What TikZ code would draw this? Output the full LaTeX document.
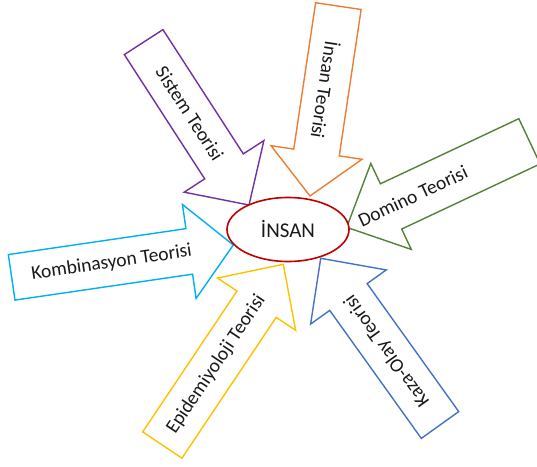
\documentclass[tikz,border=0pt]{standalone}
\usepackage{fontspec}
\setmainfont{Carlito}
\usetikzlibrary{shapes.geometric}

\definecolor{mor}{HTML}{7030A0}
\definecolor{turuncu}{HTML}{ED7D31}
\definecolor{yesil}{HTML}{548235}
\definecolor{mavi}{HTML}{00B0F0}
\definecolor{sari}{HTML}{FFC000}
\definecolor{lacivert}{HTML}{4472C4}
\definecolor{kirmizi}{HTML}{C00000}

\begin{document}
\begin{tikzpicture}[x=1pt, y=1pt,
        teori/.style={font=\fontsize{19.5}{22}\selectfont, text=black!90, inner sep=0pt},
        okcizgi/.style={line width=1.4pt, line join=miter}]
    \useasboundingbox (0,0) rectangle (537,466);
    % block arrows: tip, angle, length, body/head half widths, head length, text position
    \foreach \tx/\ty/\ang/\len/\bw/\hw/\hl/\tp/\rot/\col/\nm/\txt in {
            249/261/-57.1/194/23/47.5/46/85/-57.1/mor/sistem/Sistem Teorisi,
            310/270/-98.5/192/23/46/44/85/-98.5/turuncu/insanteori/İnsan Teorisi,
            346.7/238.7/205.2/202/25/47.5/49/129/25.2/yesil/domino/Domino Teorisi,
            233.3/221/8.3/224/23/47.5/44.5/101/8.3/mavi/kombinasyon/Kombinasyon Teorisi,
            283.3/201.7/56.2/217.5/23.6/47/48/97/56.2/sari/epidemiyoloji/Epidemiyoloji Teorisi,
            320.7/207.7/125.6/205/23/46.5/47.6/91/125.6/lacivert/kazaolay/Kaza-Olay Teorisi} {
        \begin{scope}[shift={(\tx,\ty)}, rotate=\ang]
            \draw[okcizgi, draw=\col] (0,0) -- (-\hl,\hw) -- (-\hl,\bw) -- (-\len,\bw)
                -- (-\len,-\bw) -- (-\hl,-\bw) -- (-\hl,-\hw) -- cycle;
            \node[teori, rotate=\rot] (\nm) at (-\len+\tp,0) {\txt};
        \end{scope}
    }
    \node[ellipse, draw=kirmizi, line width=1.6pt, fill=white, minimum width=122pt,
        minimum height=64pt, inner sep=0pt, font=\fontsize{21}{24}\selectfont, text=black!90]
        (insan) at (288,236.5) {İNSAN};
\end{tikzpicture}
\end{document}
